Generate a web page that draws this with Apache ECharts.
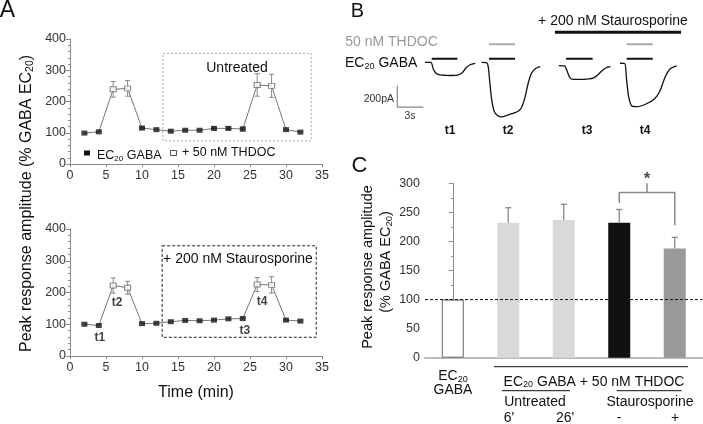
<!DOCTYPE html>
<html><head><meta charset="utf-8">
<script src="https://cdn.jsdelivr.net/npm/echarts@6/dist/echarts.min.js"></script>
<style>html,body{margin:0;padding:0;background:#fff}#c{width:703px;height:424px}</style>
</head><body><div id="c"></div>
<script>
// ---------- Panel A data ----------
const timeMin = [2,4,6,8,10,12,14,16,18,20,22,24,26,28,30,32];
const thdocFlag = [0,0,1,1,0,0,0,0,0,0,0,0,1,1,0,0];
const untreatedMean = [99,103,239,242,115,110,105,108,108,114,114,112,253,250,110,102];
const untreatedSem  = [0,0,25,25,4,0,0,0,0,5,5,7,36,37,0,0];
const stauroMean = [100,96,222,215,102,103,108,112,111,113,117,118,225,224,113,110];
const stauroSem  = [0,0,24,20,0,0,0,0,0,0,0,0,22,26,0,0];
const boxUntreated = [12.9, 33.5, 74, 354];
const boxStauro = [12.8, 34.2, 59, 347];
const tLabels = [[4,96,'t1'],[6,222,'t2'],[24,118,'t3'],[26,225,'t4']];

// ---------- Panel B data (seconds, pA) ----------
const traceT1 = [[9.8,0],[10.5,0],[10.75,-60],[11.1,-105],[11.5,-117],[12.2,-121],[12.9,-123],[13.6,-120],[14.1,-98],[14.5,-55],[15.0,-22],[15.6,-9]];
const traceT2 = [[16.35,0],[16.9,-2],[17.1,-40],[17.3,-200],[17.5,-350],[17.8,-460],[18.2,-500],[18.7,-510],[19.5,-490],[20.5,-460],[20.9,-430],[21.3,-340],[21.7,-200],[22.1,-100],[22.6,-55],[23.1,-40]];
const traceT3 = [[25.25,-30],[25.9,-32],[26.2,-80],[26.5,-140],[26.9,-160],[27.8,-160],[28.7,-155],[29.2,-148],[29.7,-120],[30.2,-80],[30.7,-50],[31.2,-38]];
const traceT4 = [[32.3,-8],[32.85,-10],[33.05,-150],[33.3,-320],[33.7,-410],[34.3,-415],[35.3,-390],[36.3,-340],[36.9,-270],[37.5,-140],[38.1,-60],[38.85,-33]];
const gabaBars = [[10.58,13.54],[17.19,20.19],[26.08,29.15],[33.08,36.08]];
const thdocBars = [[17.19,20.19],[33.08,36.08]];
const stauroBar = [24.8, 39.35];
const scaleBarPA = 200, scaleBarS = 3;

// ---------- Panel C data ----------
const cNames = ['EC20 GABA','Untreated 6\'','Untreated 26\'','Staurosporine -','Staurosporine +'];
const cMean = [100, 232, 237, 232, 188];
const cSem  = [0, 26, 27, 23, 19];
const cColors = ['#ffffff','#d9d9d9','#d9d9d9','#111111','#9a9a9a'];
const sigBracket = [3, 4, 266, 284, 228, 300]; // left idx, right idx, left leg bottom, bar y, right leg bottom, tick top

const FF = "'Liberation Sans', Arial, Helvetica, sans-serif";
const AX = '#888';

function errA(params, api){
  const x = api.value(0), m = api.value(1), s = api.value(2);
  if (!s) return null;
  const p1 = api.coord([x, m + s]), p2 = api.coord([x, m - s]);
  const w = 2.5, st = {stroke:'#888', lineWidth:1};
  return {type:'group', children:[
    {type:'line', shape:{x1:p1[0],y1:p1[1],x2:p2[0],y2:p2[1]}, style:st},
    {type:'line', shape:{x1:p1[0]-w,y1:p1[1],x2:p1[0]+w,y2:p1[1]}, style:st},
    {type:'line', shape:{x1:p2[0]-w,y1:p2[1],x2:p2[0]+w,y2:p2[1]}, style:st}]};
}
function errC(params, api){
  const x = api.value(0), m = api.value(1), s = api.value(2);
  if (!s) return null;
  const p1 = api.coord([x, m + s]), p2 = api.coord([x, m]);
  const w = 3, st = {stroke:'#888', lineWidth:1.3};
  return {type:'group', children:[
    {type:'line', shape:{x1:p1[0],y1:p1[1],x2:p2[0],y2:p2[1]}, style:st},
    {type:'line', shape:{x1:p1[0]-w,y1:p1[1],x2:p1[0]+w,y2:p1[1]}, style:st}]};
}
function boxRender(color, dash){
  return function(params, api){
    const p1 = api.coord([api.value(0), api.value(3)]);
    const p2 = api.coord([api.value(1), api.value(2)]);
    return {type:'rect', shape:{x:p1[0], y:p1[1], width:p2[0]-p1[0], height:p2[1]-p1[1]},
      style:{fill:'none', stroke:color, lineWidth:1, lineDash:dash}};
  };
}

function axisA(gi){
  return [{
    gridIndex:gi, type:'value', min:0, max:35, interval:5,
    axisLine:{lineStyle:{color:AX}}, axisTick:{length:3, lineStyle:{color:AX}},
    axisLabel:{fontSize:12.5, color:'#333', margin:5, fontFamily:FF}, splitLine:{show:false}
  },{
    gridIndex:gi, type:'value', min:0, max:400, interval:100,
    axisLine:{show:true, lineStyle:{color:AX}}, axisTick:{show:true, length:4, lineStyle:{color:AX}},
    minorTick:{show:true, splitNumber:5, length:2, lineStyle:{color:AX}},
    axisLabel:{fontSize:12.5, color:'#333', margin:4, fontFamily:FF}, splitLine:{show:false}
  }];
}
const xA0 = axisA(0), xA1 = axisA(1);

function seriesA(gi, mean, sem, box, boxColor, boxDash){
  const pts = timeMin.map((t,i)=>[t, mean[i], sem[i]]);
  return [
    {type:'custom', xAxisIndex:gi, yAxisIndex:gi, renderItem:boxRender(boxColor, boxDash),
      encode:{x:[0,1], y:[2,3]}, data:[box], z:1, silent:true},
    {type:'custom', xAxisIndex:gi, yAxisIndex:gi, renderItem:errA, encode:{x:0,y:1}, data:pts, z:2},
    {type:'line', xAxisIndex:gi, yAxisIndex:gi, data:pts.map(p=>[p[0],p[1]]), showSymbol:false,
      lineStyle:{color:'#777', width:1}, z:3},
    {type:'scatter', xAxisIndex:gi, yAxisIndex:gi, symbol:'rect', symbolSize:[6,5],
      data:pts.filter((p,i)=>!thdocFlag[i]).map(p=>[p[0],p[1]]), itemStyle:{color:'#111'}, z:4},
    {type:'scatter', xAxisIndex:gi, yAxisIndex:gi, symbol:'rect', symbolSize:[6,5],
      data:pts.filter((p,i)=>thdocFlag[i]).map(p=>[p[0],p[1]]),
      itemStyle:{color:'#fff', borderColor:'#666', borderWidth:1}, z:4}
  ];
}

const tOffsets = {t1:[1,12], t2:[4,17], t3:[2,12], t4:[5,17]};
const tLabelSeries = {
  type:'scatter', xAxisIndex:1, yAxisIndex:1, symbolSize:0,
  data:tLabels.map(d=>({value:[d[0],d[1]], name:d[2],
    label:{show:true, formatter:d[2], position:'inside', offset:tOffsets[d[2]],
      fontSize:12, fontWeight:'bold', color:'#111', fontFamily:FF}})),
  z:5
};

// Panel B series
const bSeries = [];
[traceT1, traceT2, traceT3, traceT4].forEach(tr => bSeries.push({
  type:'line', xAxisIndex:2, yAxisIndex:2, data:tr, showSymbol:false, smooth:0.25,
  lineStyle:{color:'#111', width:1.3}, z:3}));
gabaBars.forEach(b => bSeries.push({type:'line', xAxisIndex:2, yAxisIndex:2,
  data:[[b[0],33],[b[1],33]], showSymbol:false, lineStyle:{color:'#111', width:2}}));
thdocBars.forEach(b => bSeries.push({type:'line', xAxisIndex:2, yAxisIndex:2,
  data:[[b[0],170],[b[1],170]], showSymbol:false, lineStyle:{color:'#aaa', width:2}}));
bSeries.push({type:'line', xAxisIndex:2, yAxisIndex:2, data:[[stauroBar[0],283],[stauroBar[1],283]],
  showSymbol:false, lineStyle:{color:'#111', width:3}});
bSeries.push({type:'line', xAxisIndex:2, yAxisIndex:2,
  data:[[6.61,-220],[6.61,-220-scaleBarPA],[6.61+scaleBarS,-220-scaleBarPA]],
  showSymbol:false, lineStyle:{color:'#888', width:1.2}});

// Panel C series
const cSeries = [
  {type:'bar', xAxisIndex:3, yAxisIndex:3, barWidth:22,
    data:cMean.map((v,i)=>({value:[i,v], itemStyle:{color:cColors[i],
      borderColor: i===0 ? '#666' : cColors[i], borderWidth: i===0 ? 1 : 0}})), z:2},
  {type:'custom', xAxisIndex:3, yAxisIndex:3, renderItem:errC, encode:{x:0,y:1},
    data:cMean.map((v,i)=>[i,v,cSem[i]]), z:3},
  {type:'line', xAxisIndex:3, yAxisIndex:3, data:[[-0.5,100],[4.5,100]], showSymbol:false,
    lineStyle:{color:'#111', width:1, type:[3,2]}, z:4},
  {type:'line', xAxisIndex:3, yAxisIndex:3, showSymbol:false,
    data:[[sigBracket[0],sigBracket[2]],[sigBracket[0],sigBracket[3]],[sigBracket[1],sigBracket[3]],[sigBracket[1],sigBracket[4]]],
    lineStyle:{color:'#888', width:1.5}, z:4},
  {type:'line', xAxisIndex:3, yAxisIndex:3, showSymbol:false,
    data:[[(sigBracket[0]+sigBracket[1])/2,sigBracket[3]],[(sigBracket[0]+sigBracket[1])/2,sigBracket[5]]],
    lineStyle:{color:'#888', width:1.5}, z:4},
  {type:'scatter', xAxisIndex:3, yAxisIndex:3, symbolSize:0,
    data:[{value:[(sigBracket[0]+sigBracket[1])/2, sigBracket[5]],
      label:{show:true, formatter:'*', position:'top', distance:-5, fontSize:17, fontWeight:'bold', color:'#222', fontFamily:FF}}]}
];

function txt(x, y, text, size, opt){
  opt = opt || {};
  return {type:'text', x:x, y:y, rotation:opt.rot||0, z:10,
    style:{text:text, font:(opt.bold?'bold ':'')+size+'px '+FF, fill:opt.color||'#111',
      textAlign:opt.align||'center', textVerticalAlign:'middle', rich:opt.rich}};
}
function richEC(size, color){
  return {n:{fontSize:size, fontFamily:FF, lineHeight:size*1.5, verticalAlign:'bottom', fill:color||'#111'},
          s:{fontSize:size*0.65, fontFamily:FF, lineHeight:size*0.5, verticalAlign:'bottom', fill:color||'#111'}};
}
function line(x1,y1,x2,y2,c,w){
  return {type:'line', z:10, shape:{x1,y1,x2,y2}, style:{stroke:c||'#111', lineWidth:w||1}};
}

const graphics = [
  txt(7.5, 10.5, 'A', 23),
  txt(357.5, 11.5, 'B', 20),
  txt(359.5, 166, 'C', 22),
  txt(23, 203.5, '{n|Peak response amplitude (% GABA EC}{s|20}{n|)}', 16, {rot:Math.PI/2, rich:richEC(16)}),
  txt(196, 393, 'Time (min)', 16),
  txt(237, 68, 'Untreated', 14),
  txt(238, 259, '+ 200 nM Staurosporine', 14),
  {type:'rect', z:10, shape:{x:84, y:150.5, width:6, height:5}, style:{fill:'#111'}},
  txt(97, 153, '{n|EC}{s|20}{n| GABA}', 12.5, {align:'left', rich:richEC(12.5)}),
  {type:'rect', z:10, shape:{x:170.5, y:150.5, width:6, height:5}, style:{fill:'#fff', stroke:'#555', lineWidth:1}},
  txt(182, 153, '+ 50 nM THDOC', 12.5, {align:'left'}),
  // Panel B
  txt(391.5, 42, '50 nM THDOC', 14, {color:'#999'}),
  txt(345, 60, '{n|EC}{s|20}{n| GABA}', 14, {align:'left', rich:richEC(14)}),
  txt(613, 21, '+ 200 nM Staurosporine', 14),
  txt(394, 99, '200pA', 10.5, {align:'right', color:'#333'}),
  txt(410, 116.5, '3s', 10.5, {color:'#333'}),
  txt(450, 131, 't1', 12, {bold:true}),
  txt(508, 131, 't2', 12, {bold:true}),
  txt(587, 131, 't3', 12, {bold:true}),
  txt(645, 131, 't4', 12, {bold:true}),
  // Panel C
  txt(368, 267, 'Peak response amplitude', 14.5, {rot:Math.PI/2}),
  txt(383, 262, '{n|(% GABA EC}{s|20}{n|)}', 14.5, {rot:Math.PI/2, rich:richEC(14.5)}),
  txt(453, 373, '{n|EC}{s|20}', 14, {rich:richEC(14)}),
  txt(453, 390, 'GABA', 14),
  line(494, 366.7, 688, 366.7),
  txt(594, 378.5, '{n|EC}{s|20}{n| GABA + 50 nM THDOC}', 14, {rich:richEC(14)}),
  line(501.7, 390.7, 570, 390.7),
  line(616.7, 390.7, 681.7, 390.7),
  txt(535, 402, 'Untreated', 14),
  txt(650, 402, 'Staurosporine', 14),
  txt(509, 418, "6'", 14),
  txt(565, 418, "26'", 14),
  txt(619, 418, '-', 14),
  txt(675, 418, '+', 14)
];

const chart = echarts.init(document.getElementById('c'), null, {renderer:'canvas'});
chart.setOption({
  animation:false,
  backgroundColor:'#fff',
  textStyle:{fontFamily:FF},
  grid:[
    {left:70, top:39, width:252, height:125},
    {left:70, top:229, width:252, height:127},
    {left:340, top:0.5, width:363, height:141.9},
    {left:425, top:183.3, width:277.5, height:174.4}
  ],
  xAxis:[xA0[0], xA1[0],
    {gridIndex:2, type:'value', min:0, max:41.88, show:false},
    {gridIndex:3, type:'value', min:-0.5, max:4.5, axisLine:{lineStyle:{color:'#bbb', width:2}},
      axisTick:{show:false}, axisLabel:{show:false}, splitLine:{show:false}}
  ],
  yAxis:[xA0[1], xA1[1],
    {gridIndex:2, type:'value', min:-750, max:580, show:false},
    {gridIndex:3, type:'value', min:0, max:300, interval:50,
      axisLine:{show:true, lineStyle:{color:AX}}, axisTick:{show:true, length:4, lineStyle:{color:AX}},
      minorTick:{show:true, splitNumber:2, length:2, lineStyle:{color:AX}},
      axisLabel:{fontSize:12.5, color:'#333', margin:5, fontFamily:FF}, splitLine:{show:false}}
  ],
  series:[].concat(
    seriesA(0, untreatedMean, untreatedSem, boxUntreated, '#aaa', [2,2]),
    seriesA(1, stauroMean, stauroSem, boxStauro, '#222', [3,2]),
    [tLabelSeries], bSeries, cSeries),
  graphic:graphics
});
</script></body></html>
